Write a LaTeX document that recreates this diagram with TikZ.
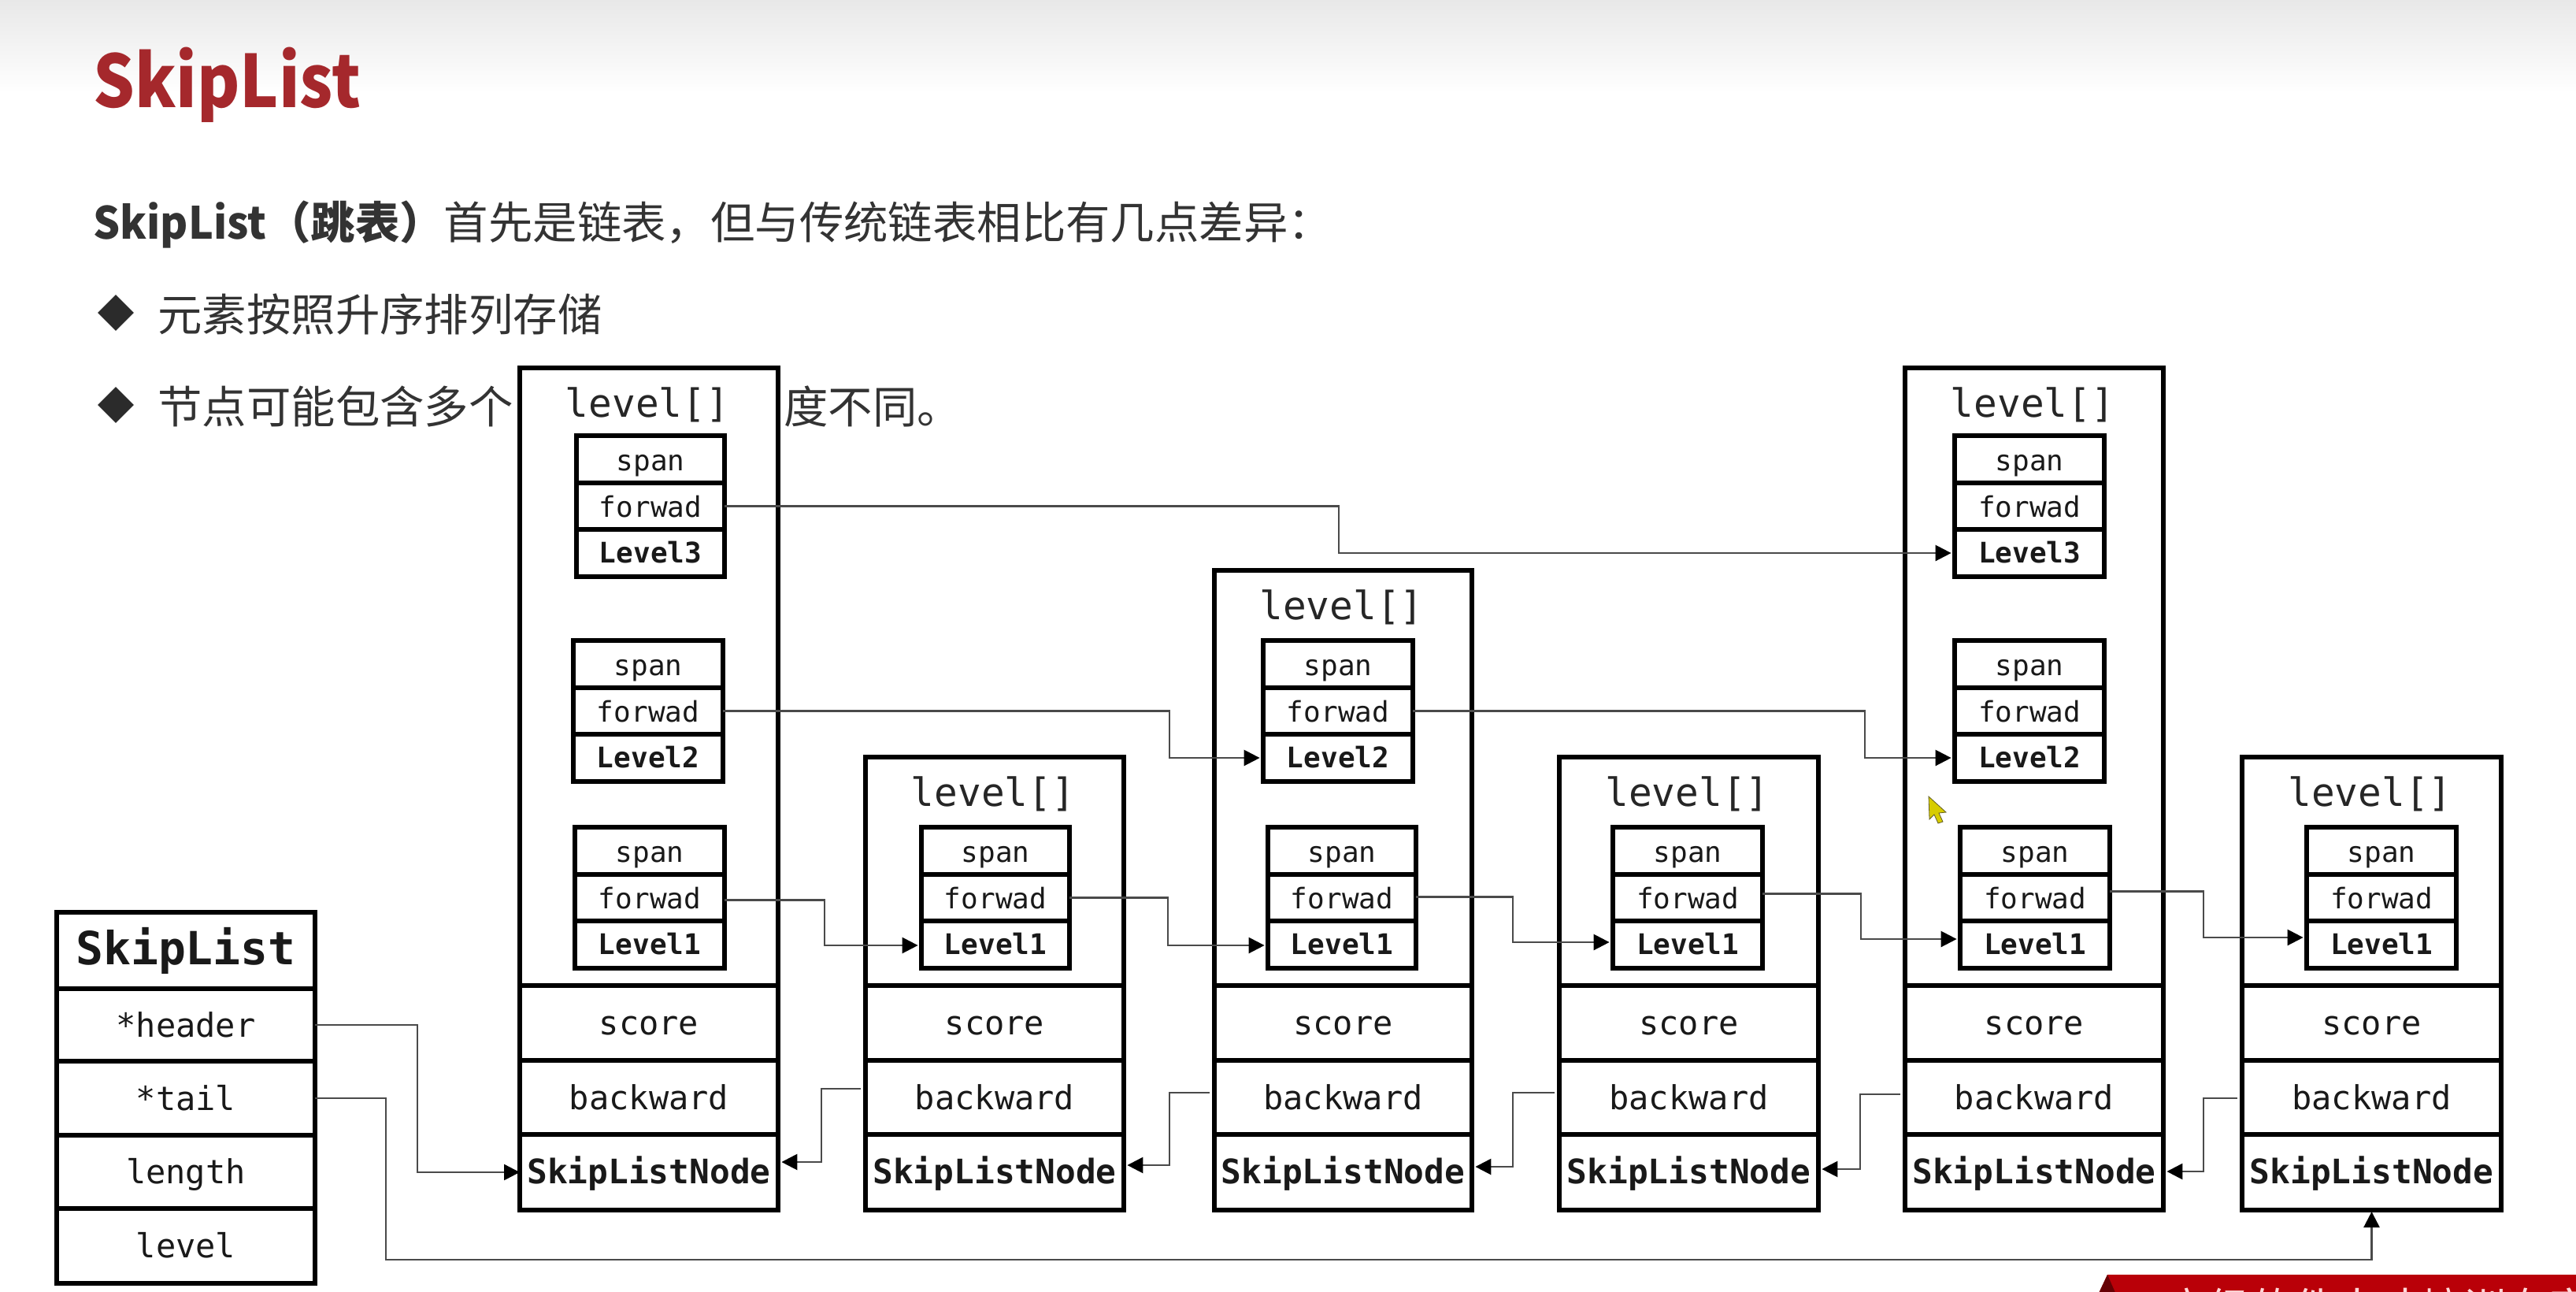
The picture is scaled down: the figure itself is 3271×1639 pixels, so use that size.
\documentclass[tikz,border=0pt]{standalone}
\usepackage{fontspec}
\setmainfont{Noto Sans CJK SC}
\newfontfamily\cjkf{Noto Sans CJK SC}
\newfontfamily\cjktitle[FakeStretch=0.9]{Noto Sans CJK SC}
\newfontfamily\cjkintro[FakeStretch=0.95]{Noto Sans CJK SC}
\newfontfamily\monof{DejaVu Sans Mono}
\usetikzlibrary{arrows.meta,calc,shapes.geometric}
\definecolor{brandred}{HTML}{A5282C}
\definecolor{bodyink}{HTML}{333333}
\definecolor{wireink}{HTML}{4A4A4A}
\definecolor{bannerred}{HTML}{B90008}
\tikzset{
  cell/.style={draw=black,fill=white,line width=2.8pt,inner sep=0pt,outer sep=0pt,font=\monof,text=black!90,text height=8pt,text depth=0pt},
  smalltxt/.style={font=\monof\fontsize{18}{18}\selectfont,text height=14pt},
  smallbold/.style={font=\monof\bfseries\fontsize{18}{18}\selectfont,text height=12pt},
  midtxt/.style={font=\monof\fontsize{21}{21}\selectfont,text height=15pt},
  midbold/.style={font=\monof\bfseries\fontsize{21.4}{21.4}\selectfont,text height=14pt},
  bigbold/.style={font=\monof\bfseries\fontsize{29}{29}\selectfont,text height=18pt},
  leveltxt/.style={font=\monof\fontsize{24.7}{25}\selectfont,text=black!85,inner sep=0pt},
  bodytxt/.style={font=\cjkf\fontsize{28.2}{30}\selectfont,text=bodyink,anchor=base west,inner sep=0pt},
  bulletmark/.style={shape=diamond,fill=bodyink!85!black,minimum width=23pt,minimum height=23pt,inner sep=0pt,aspect=1},
  wire/.style={draw=wireink,line width=1.25pt,line join=miter},
  arrowwire/.style={wire,-{Triangle[length=10pt,width=10pt,black]}},
}
% name, x1, x2, y1, y2, style, text
\newcommand\rowcell[7]{\node[cell,#6,minimum width={((#3)-(#2))*0.5pt},minimum height={((#5)-(#4))*0.5pt}] (#1) at ({((#2)+(#3))/2},{((#4)+(#5))/2}) {#7};}
% name, x1, x2, top of the outer box
\newcommand\skipnode[4]{
  \rowcell{#1top}{#2}{#3}{#4}{1251}{}{}
  \node[leveltxt] (#1lab) at ({(#2+#3)/2-2},{#4+47}) {level[]};
  \rowcell{#1score}{#2}{#3}{1251}{1346}{midtxt}{score}
  \rowcell{#1back}{#2}{#3}{1346}{1440}{midtxt}{backward}
  \rowcell{#1name}{#2}{#3}{1440}{1536}{midbold}{SkipListNode}
}
% name, x1, x2, y1, label
\newcommand\levelbox[5]{
  \rowcell{#1s}{#2}{#3}{#4}{#4+60}{smalltxt}{span}
  \rowcell{#1f}{#2}{#3}{#4+60}{#4+119}{smalltxt}{forwad}
  \rowcell{#1l}{#2}{#3}{#4+119}{#4+179}{smallbold}{#5}
}
% from, dy, to, dy, elbow x
\newcommand\fwdlink[5]{
  \coordinate (elbow) at (#5,0);
  \coordinate (from) at ($(#1.east)+(0,#2)$);
  \coordinate (to) at ($(#3.west)+(0,#4)$);
  \draw[arrowwire,shorten >=2.2pt] (from) -- (from -| elbow) -- (to -| elbow) -- (to);
}
\newcommand\backlink[5]{
  \coordinate (elbow) at (#5,0);
  \coordinate (from) at ($(#1.west)+(0,#2)$);
  \coordinate (to) at ($(#3.east)+(0,#4)$);
  \draw[arrowwire,shorten >=2.2pt,shorten <=3pt] (from) -- (from -| elbow) -- (to -| elbow) -- (to);
}
\begin{document}
\begin{tikzpicture}[x=0.5pt,y=-0.5pt]
\useasboundingbox (0,0) rectangle (3271,1639);
\fill[white] (0,0) rectangle (3271,1639);
\shade[top color=black!9,bottom color=white] (0,0) rectangle (3271,118);

% banner at the foot
\begin{scope}
\clip (0,0) rectangle (3271,1639);
\fill[bannerred] (2661,1650) -- (2676,1618) -- (3271,1618) -- (3271,1650) -- cycle;
\fill[bannerred!55!black] (2661,1650) -- (2676,1618) -- (2690,1650) -- cycle;
\node[font=\cjkf\fontsize{27}{27}\selectfont,text=white!85!red,anchor=west,inner sep=0pt] (bannertext) at (2750,1660) {高级软件人才培训专家};
\end{scope}

% heading
\node[font=\cjktitle\bfseries\fontsize{46}{48}\selectfont,text=brandred,anchor=base west,inner sep=0pt] (title) at (118,136) {SkipList};
\node[bodytxt] (intro) at (118,303) {{\cjkintro\bfseries SkipList}{\bfseries（跳表）}首先是链表，但与传统链表相比有几点差异：};
\node[bulletmark] (b1) at (147,397) {};
\node[bodytxt] (t1) at (200,420) {元素按照升序排列存储};
\node[bulletmark] (b2) at (147,514) {};
\node[bodytxt] (t2a) at (200,537) {节点可能包含多个};
\node[bodytxt] (t2b) at (995,537) {度不同。};

% SkipList record
\rowcell{listhead}{72}{400}{1158}{1255}{bigbold}{SkipList}
\rowcell{listheader}{72}{400}{1255}{1347}{midtxt}{*header}
\rowcell{listtail}{72}{400}{1347}{1441}{midtxt}{*tail}
\rowcell{listlength}{72}{400}{1441}{1534}{midtxt}{length}
\rowcell{listlevel}{72}{400}{1534}{1629}{midtxt}{level}

% nodes
\skipnode{na}{660}{988}{467}
\skipnode{nb}{1099}{1427}{961}
\skipnode{nc}{1542}{1869}{724}
\skipnode{nd}{1980}{2309}{961}
\skipnode{ne}{2419}{2747}{467}
\skipnode{nf}{2847}{3176}{961}

\levelbox{aiii}{732}{920}{553}{Level3}
\levelbox{aii}{728}{918}{813}{Level2}
\levelbox{ai}{730}{920}{1050}{Level1}
\levelbox{bi}{1170}{1358}{1050}{Level1}
\levelbox{cii}{1604}{1794}{813}{Level2}
\levelbox{ci}{1610}{1798}{1050}{Level1}
\levelbox{di}{2048}{2238}{1050}{Level1}
\levelbox{eiii}{2482}{2672}{553}{Level3}
\levelbox{eii}{2482}{2672}{813}{Level2}
\levelbox{ei}{2489}{2679}{1050}{Level1}
\levelbox{fi}{2929}{3119}{1050}{Level1}

% forward links
\fwdlink{aiiif}{0}{eiiil}{0}{1700}
\fwdlink{aiif}{0}{ciil}{0}{1485}
\fwdlink{ciif}{0}{eiil}{0}{2368}
\fwdlink{aif}{3}{bil}{1}{1047}
\fwdlink{bif}{0}{cil}{1}{1483}
\fwdlink{cif}{-1}{dil}{-3}{1921}
\fwdlink{dif}{-5}{eil}{-7}{2363}
\fwdlink{eif}{-8}{fil}{-9}{2798}

% backward links
\backlink{nbback}{-11}{naname}{-13}{1043}
\backlink{ncback}{-6}{nbname}{-9}{1485}
\backlink{ndback}{-6}{ncname}{-7}{1921}
\backlink{neback}{-4}{ndname}{-4}{2362}
\backlink{nfback}{1}{nename}{-1}{2798}

% header and tail
\coordinate (headelbow) at (530,0);
\draw[arrowwire] (listheader.east) -- (listheader.east -| headelbow) -- (naname.west -| headelbow) -- (naname.west);
\coordinate (tailelbow) at (490,1599);
\draw[arrowwire,shorten >=1pt] (listtail.east) -- (listtail.east -| tailelbow) -- (tailelbow) -- (tailelbow -| nfname.south) -- (nfname.south);

% mouse pointer
\fill[fill=yellow!65!olive,draw=olive!60!black,line width=0.4pt] (2449,1011) -- (2471,1031) -- (2462,1032) -- (2467,1043) -- (2461,1045) -- (2456,1034) -- (2450,1040) -- cycle;
\end{tikzpicture}
\end{document}
